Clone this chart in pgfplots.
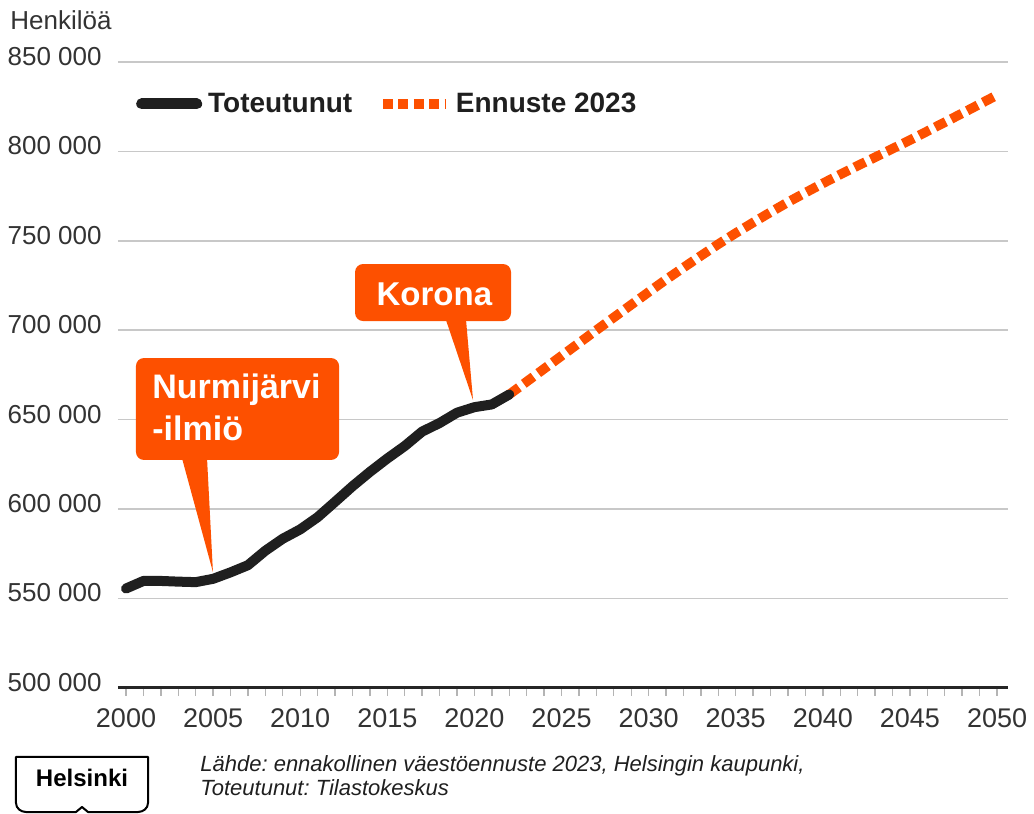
\documentclass[border=0pt]{standalone}
\usepackage{pgfplots}
\pgfplotsset{compat=1.18}
\usepackage{fontspec}
\setmainfont{Liberation Sans}
\frenchspacing

\definecolor{hkiorange}{HTML}{FD5000}
\definecolor{hkiblack}{HTML}{1F1F1F}
\definecolor{gridgray}{HTML}{C8C8C8}
\definecolor{labelgray}{HTML}{333333}

\pgfplotsset{
    blacklegend/.style={legend image code/.code={\draw[##1, line width=5.5pt] (0pt,0pt) -- (27.5pt,0pt);}},
    orangelegend/.style={legend image code/.code={\draw[##1, dash pattern=on 5pt off 2.7pt] (0pt,0pt) -- (31pt,0pt);}},
}

\begin{document}
\begin{tikzpicture}

\begin{axis}[
    scale only axis,
    width=445pt,
    height=312.85pt,
    xmin=1999.54, xmax=2050.63,
    ymin=500000, ymax=850000,
    clip=false,
    axis x line*=bottom,
    axis y line*=left,
    y axis line style={draw=none},
    x axis line style={-, line width=1.3pt, black!85},
    xtick={2000,2005,...,2050},
    xticklabels={2000,2005,2010,2015,2020,2025,2030,2035,2040,2045,2050},
    minor xtick={2000,2001,...,2050},
    tick align=outside,
    major tick length=4pt,
    minor tick length=4pt,
    x tick style={gridgray!90!black, line width=0.7pt},
    ytick={500000,550000,...,850000},
    yticklabels={500 000,550 000,600 000,650 000,700 000,750 000,800 000,850 000},
    scaled y ticks=false,
    y tick style={draw=none},
    ymajorgrids,
    major grid style={gridgray, line width=0.8pt},
    xticklabel style={font=\fontsize{13.5}{16}\selectfont, text=labelgray, anchor=north, inner sep=0pt, yshift=-6.5pt},
    yticklabel style={font=\fontsize{13}{16}\selectfont, text=labelgray, anchor=base east, inner sep=0pt, xshift=-4pt, yshift=-1.8pt},
    legend columns=2,
    reverse legend,
    legend style={draw=none, fill=none, inner sep=0pt,
        at={(0.02,0.933)}, anchor=west,
        font=\fontsize{14}{16}\selectfont\bfseries,
        text=hkiblack,
        /tikz/every even column/.append style={column sep=10pt},
        nodes={inner xsep=3pt, inner ysep=0pt}},
]

% forecast 2023
\addplot[hkiorange, line width=4.8pt, dash pattern=on 6pt off 3pt, orangelegend]
coordinates {
    (2022,664028) (2023,671200) (2024,678400) (2025,685600) (2026,692800)
    (2027,700000) (2028,707100) (2029,714200) (2030,721300) (2031,728300)
    (2032,735000) (2033,741600) (2034,748100) (2035,754300) (2036,760200)
    (2037,766000) (2038,771600) (2039,776900) (2040,782100) (2041,787100)
    (2042,792000) (2043,796700) (2044,801500) (2045,806300) (2046,811300)
    (2047,816300) (2048,821300) (2049,826400) (2050,831500)
};

% realised
\addplot[hkiblack, line width=5pt, line cap=round, line join=round, blacklegend]
coordinates {
    (2000,555474) (2001,559716) (2002,559718) (2003,559330) (2004,559046)
    (2005,560905) (2006,564521) (2007,568531) (2008,576632) (2009,583350)
    (2010,588549) (2011,595384) (2012,603968) (2013,612664) (2014,620715)
    (2015,628208) (2016,635181) (2017,643272) (2018,648042) (2019,653835)
    (2020,656920) (2021,658457) (2022,664028)
};

\legend{Ennuste 2023,Toteutunut}

% callouts
\fill[hkiorange, rounded corners=4pt] (axis cs:2000.57,684400) rectangle (axis cs:2012.23,627400);
\fill[hkiorange] (axis cs:2003.21,628500) -- (axis cs:2004.65,628500) -- (axis cs:2004.99,564700) -- cycle;
\node[anchor=base west, inner sep=0pt, text=white, font=\fontsize{17}{20}\selectfont\bfseries]
    at (axis cs:2001.49,661500) {Nurmijärvi};
\node[anchor=base west, inner sep=0pt, text=white, font=\fontsize{17}{20}\selectfont\bfseries]
    at (axis cs:2001.49,638550) {-ilmiö};

\fill[hkiorange, rounded corners=4pt] (axis cs:2013.15,737000) rectangle (axis cs:2022.10,705100);
\fill[hkiorange] (axis cs:2018.37,705600) -- (axis cs:2019.52,705600) -- (axis cs:2019.92,660900) -- cycle;
\node[anchor=base, inner sep=0pt, text=white, font=\fontsize{16.5}{20}\selectfont\bfseries]
    at (axis cs:2017.7,714000) {Korona};

\coordinate (O) at (rel axis cs:0,0);
\end{axis}

\begin{scope}[shift={(O)}]
\node[anchor=base west, inner sep=0pt, text=labelgray, font=\fontsize{13}{16}\selectfont]
    at (-54pt,328.85pt) {Henkilöä};
\node[anchor=base west, inner sep=0pt, text=hkiblack, font=\fontsize{11}{12}\selectfont\itshape]
    at (41pt,-42.15pt) {Lähde: ennakollinen väestöennuste 2023, Helsingin kaupunki,};
\node[anchor=base west, inner sep=0pt, text=hkiblack, font=\fontsize{11}{12}\selectfont\itshape]
    at (41pt,-54.15pt) {Toteutunut: Tilastokeskus};
% Helsinki logo
\draw[black, line width=1pt, line join=round]
    (-51pt,-34.65pt) -- (15pt,-34.65pt) -- (15pt,-57.65pt)
    to[out=-90,in=0] (10pt,-62.15pt) -- (-15pt,-62.15pt) -- (-18pt,-59.65pt)
    -- (-21pt,-62.15pt) -- (-46pt,-62.15pt) to[out=180,in=-90] (-51pt,-57.65pt) -- cycle;
\node[anchor=base, inner sep=0pt, font=\fontsize{12}{14}\selectfont\bfseries]
    at (-18pt,-49.65pt) {Helsinki};
\end{scope}

\pgfresetboundingbox
\path[use as bounding box] (O) ++(-59pt,-63.15pt) rectangle ++(517pt,407pt);

\end{tikzpicture}
\end{document}
